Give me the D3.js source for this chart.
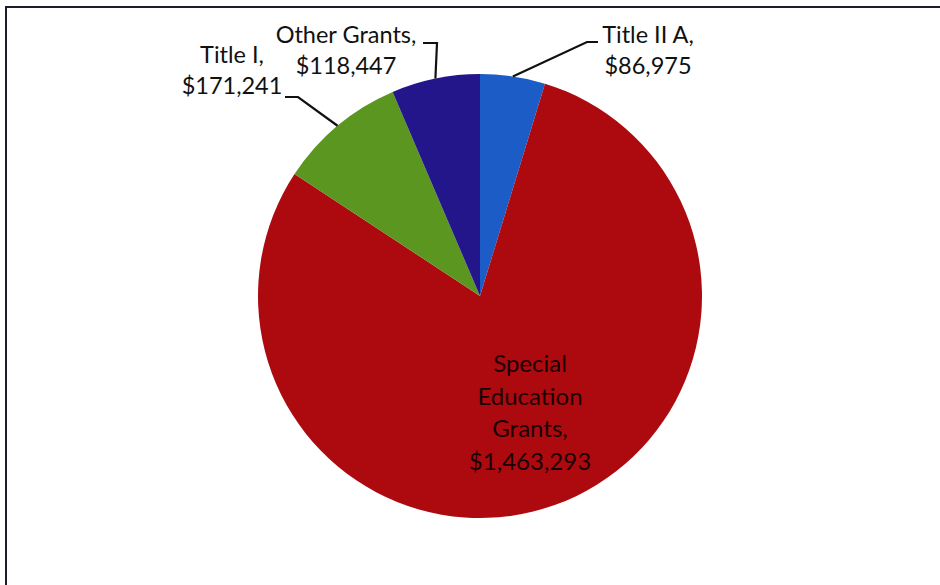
<!DOCTYPE html>
<html>
<head>
<meta charset="utf-8">
<script src="https://cdn.jsdelivr.net/npm/d3@7"></script>
<style>
  html, body { margin: 0; padding: 0; background: #fff; }
  svg text { font-family: Lato, 'Open Sans', sans-serif; fill: #111; }
</style>
</head>
<body>
<div id="chart"></div>
<script>
// data, clockwise from 12 o'clock
var categories = ['Title II A', 'Special Education Grants', 'Title I', 'Other Grants']
var amounts = [86975, 1463293, 171241, 118447]
var colors = ['#1b5cc6', '#ad0a10', '#5b9620', '#22168a']

var width = 940
var height = 585
var cx = 480
var cy = 296
var radius = 222

var fmt = d3.format('$,')

var svg = d3.select('#chart').append('svg')
  .attr('width', width)
  .attr('height', height)

// chart frame (runs off right and bottom of the crop)
svg.append('rect')
  .attr('x', 6)
  .attr('y', 7)
  .attr('width', 960)
  .attr('height', 600)
  .attr('fill', 'none')
  .attr('stroke', '#1c1c2c')
  .attr('stroke-width', 2)

var pie = d3.pie().sort(null).value(function (d) { return d })
var arcs = pie(amounts)

var arc = d3.arc().innerRadius(0).outerRadius(radius)

var g = svg.append('g').attr('transform', 'translate(' + cx + ',' + cy + ')')

g.selectAll('path.slice')
  .data(arcs)
  .enter().append('path')
  .attr('class', 'slice')
  .attr('d', arc)
  .attr('fill', function (d, i) { return colors[i] })

// label layout: elbow point, line end, text centre (svg coords)
var layout = [
  { elbow: [587, 42], end: [598, 42], tx: 648, ty: 43, lines: ['Title II A,'] },
  null,
  { elbow: [298, 97], end: [285, 97], tx: 232, ty: 63, lines: ['Title I,'] },
  { elbow: [437, 43], end: [423, 43], tx: 346, ty: 43, lines: ['Other Grants,'] }
]

function edgePoint (d) {
  var a = (d.startAngle + d.endAngle) / 2
  return [cx + radius * Math.sin(a), cy - radius * Math.cos(a)]
}

arcs.forEach(function (d, i) {
  var l = layout[i]
  if (!l) return
  var p = edgePoint(d)
  svg.append('polyline')
    .attr('points', [p, l.elbow, l.end].map(function (q) { return q.join(',') }).join(' '))
    .attr('fill', 'none')
    .attr('stroke', '#111')
    .attr('stroke-width', 2.2)

  var t = svg.append('text')
    .attr('x', l.tx)
    .attr('y', l.ty)
    .attr('text-anchor', 'middle')
    .style('font-size', '23.5px')
  t.append('tspan').attr('x', l.tx).text(l.lines[0])
  t.append('tspan').attr('x', l.tx).attr('dy', 31).text(fmt(amounts[i]))
})

// big slice label inside
var inner = svg.append('text')
  .attr('x', 530)
  .attr('y', 372)
  .attr('text-anchor', 'middle')
  .style('font-size', '24px')
  .style('fill', '#1a0202')
;['Special', 'Education', 'Grants,', fmt(amounts[1])].forEach(function (s, k) {
  inner.append('tspan').attr('x', 530).attr('dy', k === 0 ? 0 : 32.7).text(s)
})
</script>
</body>
</html>
